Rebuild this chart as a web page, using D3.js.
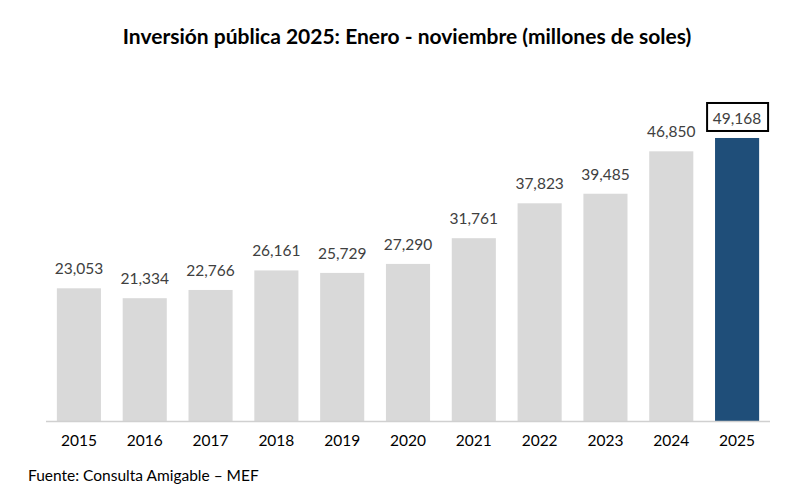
<!DOCTYPE html>
<html><head><meta charset="utf-8">
<script src="https://cdn.jsdelivr.net/npm/d3@7"></script>
<style>body{margin:0;background:#fff}svg{display:block}</style>
</head><body>
<svg id="c" width="803" height="498"></svg>
<script>
const years = ["2015","2016","2017","2018","2019","2020","2021","2022","2023","2024","2025"];
const values = [23053,21334,22766,26161,25729,27290,31761,37823,39485,46850,49168];
const title = "Inversión pública 2025: Enero - noviembre (millones de soles)";
const source = "Fuente: Consulta Amigable – MEF";

const svg = d3.select("#c");
const font = "Lato, 'Open Sans', sans-serif";
const x = d3.scaleBand().domain(years).range([46,770]).paddingInner(0.33).paddingOuter(0.165);
const y = d3.scaleLinear().domain([0,55000]).range([421, 421-55000*0.005756]);
const fmt = d3.format(",");

svg.append("text").attr("x",407).attr("y",44).attr("text-anchor","middle")
  .attr("font-family",font).attr("font-weight","bold").attr("font-size",21).attr("fill","#000").text(title);

svg.selectAll("rect.bar").data(values).join("rect").attr("class","bar")
  .attr("x",(d,i)=>x(years[i])).attr("width",x.bandwidth())
  .attr("y",d=>y(d)).attr("height",d=>y(0)-y(d))
  .attr("fill",(d,i)=>i===values.length-1?"#1f4e79":"#d9d9d9");

svg.append("line").attr("x1",46).attr("x2",770).attr("y1",421.5).attr("y2",421.5)
  .attr("stroke","#d0d0d0").attr("stroke-width",1.5);

svg.selectAll("text.val").data(values).join("text").attr("class","val")
  .attr("x",(d,i)=>x(years[i])+x.bandwidth()/2).attr("y",d=>y(d)-14)
  .attr("text-anchor","middle").attr("font-family",font).attr("font-size",15.5)
  .attr("fill","#404040").text(d=>fmt(d));

const last = values.length-1;
const cx = x(years[last])+x.bandwidth()/2;
svg.append("rect").attr("x",cx-30).attr("y",y(values[last])-35).attr("width",61).attr("height",28)
  .attr("fill","none").attr("stroke","#000").attr("stroke-width",2);

const axis = d3.axisBottom(x).tickSize(0).tickPadding(14);
const g = svg.append("g").attr("transform","translate(0,421)").call(axis);
g.select(".domain").remove();
g.selectAll("text").attr("font-family",font).attr("font-size",15.5).attr("fill","#000");

svg.append("text").attr("x",28).attr("y",481).attr("font-family",font).attr("font-size",15.5)
  .attr("fill","#000").text(source);
</script>
</body></html>
